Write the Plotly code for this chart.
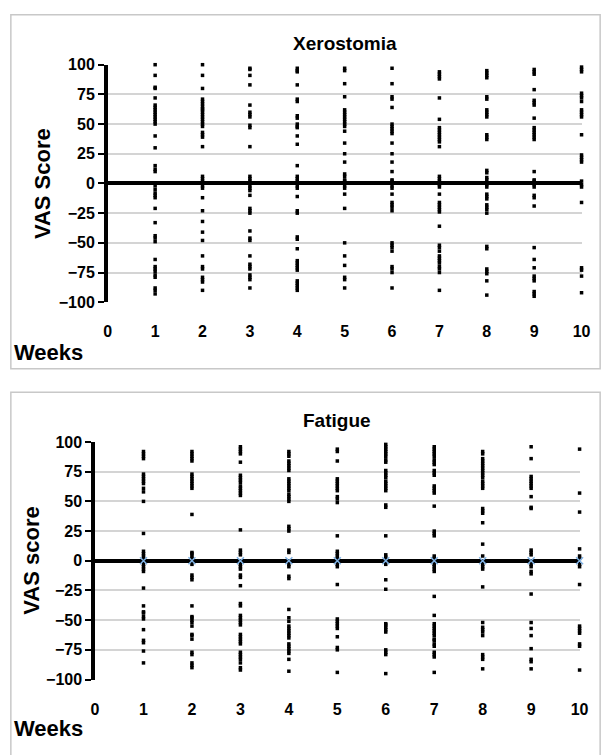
import plotly.graph_objects as go

# ---------------- data ----------------
weeks = [1, 2, 3, 4, 5, 6, 7, 8, 9, 10]
x_tick_labels = ["0", "1", "2", "3", "4", "5", "6", "7", "8", "9", "10"]
y_tick_values = [-100, -75, -50, -25, 0, 25, 50, 75, 100]

xero_w1 = [100, 91, 81, 80, 72, 66, 64, 62, 60, 58, 56, 54, 52, 50, 40, 30, 15, 12, 10, -2, -5, -8, -10, -12, -21, -33, -44, -46, -49, -64, -70, -72, -74, -77, -79, -88, -90, -93]
xero_w2 = [100, 91, 80, 71, 69, 67, 65, 63, 62, 60, 58, 56, 54, 52, 50, 48, 43, 41, 39, 31, 6, 4, 2, -2, -4, -12, -23, -32, -41, -48, -61, -70, -72, -79, -81, -83, -90]
xero_w3 = [97, 96, 91, 83, 66, 60, 58, 56, 49, 47, 31, 6, 4, 2, -2, -4, -6, -10, -21, -23, -25, -40, -46, -48, -61, -68, -70, -72, -77, -79, -81, -88]
xero_w4 = [97, 95, 94, 83, 71, 69, 57, 55, 50, 48, 47, 40, 33, 15, 6, 4, 2, -2, -4, -11, -23, -25, -45, -47, -55, -65, -67, -69, -71, -73, -82, -84, -86, -88, -90]
xero_w5 = [97, 95, 84, 73, 62, 60, 58, 56, 54, 52, 50, 48, 44, 34, 25, 18, 8, 6, 3, 2, -2, -4, -9, -21, -50, -61, -69, -79, -81, -88]
xero_w6 = [97, 84, 73, 71, 64, 50, 48, 46, 44, 42, 34, 25, 18, 10, 3, 2, -2, -4, -9, -16, -18, -20, -23, -50, -52, -54, -57, -70, -72, -75, -88]
xero_w7 = [94, 92, 90, 88, 72, 54, 47, 45, 43, 41, 39, 37, 35, 31, 6, 4, 2, -1, -3, -9, -16, -18, -20, -22, -24, -36, -52, -54, -57, -61, -63, -65, -67, -70, -72, -75, -90]
xero_w8 = [95, 93, 91, 89, 73, 71, 62, 60, 58, 56, 41, 39, 37, 11, 9, 5, 3, -1, -3, -9, -11, -13, -18, -20, -22, -25, -53, -55, -72, -74, -76, -82, -94]
xero_w9 = [96, 94, 92, 79, 70, 68, 66, 55, 47, 45, 43, 41, 39, 37, 10, 3, 2, -1, -3, -10, -12, -19, -54, -64, -71, -78, -80, -82, -91, -93, -95]
xero_w10 = [98, 96, 94, 76, 74, 72, 69, 62, 60, 58, 56, 41, 24, 22, 20, 18, 2, -1, -3, -16, -71, -73, -78, -92]

fat_w1 = [92, 90, 88, 86, 73, 71, 69, 67, 65, 61, 58, 50, 23, 8, 6, 4, 2, -3, -5, -7, -9, -23, -38, -43, -44, -47, -49, -58, -67, -69, -76, -86]
fat_w2 = [92, 90, 88, 86, 84, 73, 71, 69, 67, 65, 63, 61, 39, 7, 6, 4, 2, -3, -12, -14, -16, -38, -47, -48, -50, -52, -55, -62, -63, -66, -77, -79, -86, -88, -90]
fat_w3 = [96, 94, 92, 90, 83, 72, 70, 68, 66, 63, 61, 59, 57, 55, 26, 9, 7, 5, -3, -5, -7, -12, -14, -21, -36, -38, -46, -48, -50, -52, -54, -62, -64, -66, -68, -70, -77, -79, -81, -83, -86, -90, -92]
fat_w4 = [92, 90, 88, 84, 82, 80, 78, 76, 69, 67, 65, 63, 61, 59, 56, 54, 52, 50, 29, 27, 25, 9, 7, -3, -5, -13, -15, -41, -48, -51, -55, -57, -59, -61, -63, -65, -70, -72, -74, -76, -78, -83, -93]
fat_w5 = [94, 92, 84, 69, 67, 65, 63, 61, 59, 54, 52, 49, 21, 8, 6, 4, 2, -3, -5, -20, -49, -51, -53, -55, -57, -64, -73, -75, -94]
fat_w6 = [98, 96, 94, 92, 90, 88, 85, 83, 76, 74, 72, 70, 67, 65, 63, 61, 59, 47, 45, 21, 5, 3, 1, -3, -16, -24, -53, -54, -56, -58, -60, -75, -77, -79, -95]
fat_w7 = [96, 94, 92, 90, 88, 85, 83, 81, 76, 74, 72, 63, 61, 59, 57, 46, 25, 23, 21, 4, 2, 1, -3, -5, -7, -9, -30, -46, -53, -55, -57, -59, -61, -63, -66, -67, -70, -72, -77, -79, -81, -94]
fat_w8 = [92, 90, 86, 84, 82, 80, 78, 76, 74, 72, 70, 67, 65, 63, 61, 44, 42, 40, 32, 14, 4, -3, -5, -7, -22, -52, -56, -58, -60, -63, -79, -81, -83, -91]
fat_w9 = [96, 86, 71, 69, 67, 65, 63, 61, 54, 45, 44, 9, 7, 5, -3, -5, -9, -11, -28, -52, -57, -63, -74, -83, -85, -91]
fat_w10 = [94, 57, 41, 10, 4, 2, -3, -5, -20, -55, -57, -59, -61, -70, -72, -92]
fat_zero_markers = [0, 0, 0, 0, 0, 0, 0, 0, 0, 0]

xero_lists = [xero_w1, xero_w2, xero_w3, xero_w4, xero_w5, xero_w6, xero_w7, xero_w8, xero_w9, xero_w10]
fat_lists = [fat_w1, fat_w2, fat_w3, fat_w4, fat_w5, fat_w6, fat_w7, fat_w8, fat_w9, fat_w10]

# ---------------- figure ----------------
W, H = 616, 755
FONT = "Liberation Sans, Arial, sans-serif"


def flatten(lists):
    xs, ys = [], []
    for wk, vals in zip(weeks, lists):
        xs.extend([wk] * len(vals))
        ys.extend(vals)
    return xs, ys


fig = go.Figure()

xx, xy = flatten(xero_lists)
fig.add_trace(go.Scatter(x=xx, y=xy, mode="markers", xaxis="x", yaxis="y",
                         marker=dict(symbol="square", size=3.5, color="black"),
                         cliponaxis=False, showlegend=False, hoverinfo="skip"))

fx, fy = flatten(fat_lists)
fig.add_trace(go.Scatter(x=fx, y=fy, mode="markers", xaxis="x2", yaxis="y2",
                         marker=dict(symbol="square", size=3.5, color="black"),
                         cliponaxis=False, showlegend=False, hoverinfo="skip"))
fig.add_trace(go.Scatter(x=weeks, y=fat_zero_markers, mode="markers", xaxis="x2", yaxis="y2",
                         marker=dict(symbol="x-thin", size=7, color="#7fb2e5",
                                     line=dict(width=1.5, color="#7fb2e5")),
                         cliponaxis=False, showlegend=False, hoverinfo="skip"))


def px_x(p):
    return p / W


def px_y(p):
    return 1 - p / H


common_x = dict(range=[0, 10], tickmode="array", tickvals=list(range(0, 11)), ticktext=x_tick_labels,
                showgrid=False, zeroline=False, showline=False,
                ticks="outside", ticklen=15, tickcolor="rgba(0,0,0,0)",
                tickfont=dict(family=FONT, size=16, color="black", weight="bold"),
                fixedrange=True)
common_y = dict(range=[-100, 100], tickmode="array", tickvals=y_tick_values,
                showgrid=True, gridcolor="#d4d4d4", gridwidth=1.5,
                zeroline=True, zerolinecolor="black", zerolinewidth=3.5,
                showline=True, linecolor="black", linewidth=3.5,
                ticks="outside", ticklen=6, tickwidth=2, tickcolor="black",
                tickfont=dict(family=FONT, size=16, color="black", weight="bold"),
                fixedrange=True)

fig.update_layout(
    width=W, height=H,
    margin=dict(l=0, r=0, t=0, b=0),
    paper_bgcolor="white", plot_bgcolor="white",
    xaxis=dict(domain=[px_x(106), px_x(590)], anchor="y", **common_x),
    yaxis=dict(domain=[px_y(301), px_y(58)], anchor="x", **common_y),
    xaxis2=dict(domain=[px_x(93), px_x(588)], anchor="y2", **common_x),
    yaxis2=dict(domain=[px_y(687), px_y(444)], anchor="x2", **common_y),
    shapes=[
        dict(type="rect", xref="paper", yref="paper",
             x0=px_x(7), x1=px_x(609), y0=px_y(369), y1=px_y(7),
             line=dict(color="#c8c8c8", width=1.5), layer="below"),
        dict(type="rect", xref="paper", yref="paper",
             x0=px_x(7), x1=px_x(609), y0=px_y(800), y1=px_y(393),
             line=dict(color="#c8c8c8", width=1.5), layer="below"),
    ],
    annotations=[
        dict(text="<b>Xerostomia</b>", x=px_x(348), y=px_y(36), xref="paper", yref="paper",
             showarrow=False, font=dict(family=FONT, size=19, color="black"), xanchor="center", yanchor="middle"),
        dict(text="<b>Fatigue</b>", x=px_x(340), y=px_y(422), xref="paper", yref="paper",
             showarrow=False, font=dict(family=FONT, size=19, color="black"), xanchor="center", yanchor="middle"),
        dict(text="<b>VAS Score</b>", x=px_x(40), y=px_y(180), xref="paper", yref="paper", textangle=-90,
             showarrow=False, font=dict(family=FONT, size=22, color="black"), xanchor="center", yanchor="middle"),
        dict(text="<b>VAS score</b>", x=px_x(28), y=px_y(565), xref="paper", yref="paper", textangle=-90,
             showarrow=False, font=dict(family=FONT, size=22, color="black"), xanchor="center", yanchor="middle"),
        dict(text="<b>Weeks</b>", x=px_x(8), y=px_y(352), xref="paper", yref="paper",
             showarrow=False, font=dict(family=FONT, size=22, color="black"), xanchor="left", yanchor="middle"),
        dict(text="<b>Weeks</b>", x=px_x(8), y=px_y(737), xref="paper", yref="paper",
             showarrow=False, font=dict(family=FONT, size=22, color="black"), xanchor="left", yanchor="middle"),
    ],
)

fig.write_html("out.html", config={"displayModeBar": False},
               post_script="document.body.style.margin='0';document.body.style.padding='0';")
